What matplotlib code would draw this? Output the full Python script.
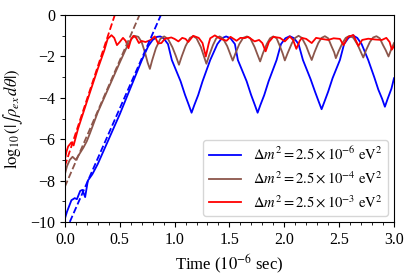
import matplotlib
matplotlib.use("Agg")
import matplotlib.pyplot as plt
from matplotlib.ticker import MultipleLocator

plt.rcParams['font.family'] = ['Liberation Serif', 'DejaVu Serif']
plt.rcParams['mathtext.fontset'] = 'stix'

# values
t_blue = [0.0, 0.02, 0.06, 0.09, 0.11, 0.14, 0.16, 0.185, 0.21, 0.25, 0.3, 0.4, 0.5, 0.6, 0.7,
          0.76, 0.8, 0.84, 0.87, 0.9, 0.94, 0.975, 1.055, 1.095, 1.13, 1.155, 1.18, 1.215, 1.255,
          1.325, 1.39, 1.43, 1.47, 1.51, 1.55, 1.577, 1.657, 1.697, 1.732, 1.757, 1.782, 1.817,
          1.857, 1.93, 1.97, 2.01, 2.05, 2.09, 2.13, 2.17, 2.24, 2.28, 2.315, 2.34, 2.365, 2.40,
          2.44, 2.507, 2.545, 2.585, 2.625, 2.665, 2.705, 2.765, 2.82, 2.857, 2.892, 2.917, 2.942,
          2.977, 3.0]
y_blue = [-9.85, -9.5, -8.95, -8.85, -8.9, -8.5, -8.45, -8.8, -8.0, -7.7, -7.2, -6.0, -4.8, -3.5, -2.2,
          -1.5, -1.2, -1.05, -1.03, -1.12, -1.4, -2.17, -3.2, -3.85, -4.35, -4.72, -4.35, -3.87, -3.2,
          -2.17, -1.4, -1.12, -1.03, -1.12, -1.4, -2.17, -3.2, -3.85, -4.35, -4.72, -4.35, -3.87,
          -3.2, -2.17, -1.4, -1.12, -1.02, -1.12, -1.4, -2.17, -3.1, -3.7, -4.2, -4.55, -4.2, -3.7,
          -3.05, -2.17, -1.4, -1.1, -0.98, -1.1, -1.4, -2.17, -3.0, -3.6, -4.05, -4.43, -4.05,
          -3.55, -3.05]

t_brown = [0.0, 0.02, 0.045, 0.07, 0.1, 0.137, 0.17, 0.2, 0.23, 0.3, 0.4, 0.5, 0.56, 0.6, 0.635,
           0.67, 0.7, 0.73, 0.755, 0.775, 0.795, 0.83, 0.87, 0.905, 0.94, 0.98, 1.01, 1.04, 1.065,
           1.1, 1.14, 1.17, 1.2, 1.24, 1.265, 1.29, 1.315, 1.35, 1.38, 1.41, 1.44, 1.48, 1.505,
           1.53, 1.555, 1.59, 1.625, 1.66, 1.69, 1.73, 1.755, 1.78, 1.805, 1.84, 1.87, 1.9, 1.93,
           1.96, 1.985, 2.005, 2.03, 2.07, 2.1, 2.13, 2.16, 2.2, 2.225, 2.25, 2.275, 2.31, 2.34,
           2.37, 2.4, 2.43, 2.455, 2.47, 2.495, 2.53, 2.56, 2.595, 2.63, 2.67, 2.695, 2.72, 2.745,
           2.78, 2.81, 2.84, 2.87, 2.9, 2.925, 2.95, 2.975, 3.0]
y_brown = [-7.7, -7.3, -7.0, -6.85, -7.0, -6.68, -6.4, -6.1, -5.7, -4.7, -3.5, -2.3, -1.6, -1.2, -1.0,
           -1.05, -1.3, -1.8, -2.3, -2.6, -2.2, -1.6, -1.15, -1.03, -1.15, -1.55, -1.95, -2.4, -2.0,
           -1.5, -1.1, -1.02, -1.12, -1.55, -1.95, -2.35, -1.95, -1.45, -1.12, -1.03, -1.12, -1.5, -1.85,
           -2.2, -1.85, -1.4, -1.1, -1.03, -1.12, -1.55, -1.9, -2.24, -1.85, -1.4, -1.12, -1.03, -1.12,
           -1.5, -1.85, -2.19, -1.85, -1.35, -1.1, -1.0, -1.1, -1.5, -1.85, -2.17, -1.8, -1.35, -1.1,
           -1.02, -1.12, -1.5, -1.8, -2.08, -1.75, -1.35, -1.1, -1.0, -1.1, -1.45, -1.75, -2.05, -1.7,
           -1.3, -1.08, -1.02, -1.12, -1.45, -1.7, -2.0, -1.65, -1.35]

t_red = [0.0, 0.015, 0.03, 0.06, 0.08, 0.1, 0.12, 0.2, 0.3, 0.36, 0.39, 0.425, 0.45, 0.475, 0.5,
         0.53, 0.555, 0.58, 0.605, 0.625, 0.65, 0.675, 0.7, 0.735, 0.775, 0.82, 0.85, 0.88, 0.91,
         0.97, 1.0, 1.035, 1.07, 1.1, 1.125, 1.17, 1.22, 1.255, 1.285, 1.31, 1.325, 1.367, 1.42,
         1.474, 1.51, 1.565, 1.6, 1.64, 1.67, 1.73, 1.77, 1.8, 1.83, 1.86, 1.9, 1.96, 2.005, 2.05,
         2.08, 2.11, 2.14, 2.16, 2.2, 2.25, 2.29, 2.34, 2.40, 2.45, 2.507, 2.54, 2.58, 2.63, 2.675,
         2.71, 2.765, 2.83, 2.89, 2.93, 2.96, 2.98, 3.0]
y_red = [-7.0, -6.6, -6.35, -6.15, -6.3, -5.9, -5.5, -4.2, -2.6, -1.7, -1.15, -0.97, -1.1, -1.45, -1.3,
         -1.1, -1.25, -1.6, -1.15, -1.0, -1.1, -1.35, -1.25, -1.3, -1.22, -1.03, -1.37, -1.35, -1.15,
         -1.08, -1.15, -1.27, -1.1, -1.15, -1.3, -1.0, -1.1, -1.35, -2.0, -1.4, -1.12, -0.98, -1.15,
         -1.24, -1.05, -1.24, -1.1, -1.11, -1.05, -1.27, -1.2, -1.35, -1.75, -1.3, -1.05, -1.1, -1.27, -1.03,
         -1.2, -1.63, -1.25, -1.1, -1.15, -1.35, -1.1, -1.15, -1.2, -1.12, -1.15, -1.45, -1.06, -0.96, -1.49,
         -1.2, -1.14, -1.18, -1.2, -1.1, -1.3, -1.67, -1.5]

# straight dashed guides (end points)
t_blue_fit = [0.045, 0.875]
y_blue_fit = [-10.0, 0.0]
t_brown_fit = [0.0, 0.68]
y_brown_fit = [-8.3, 0.0]
t_red_fit = [0.0, 0.455]
y_red_fit = [-7.3, 0.0]

labels = [r'$\Delta m^2 = 2.5\times 10^{-6}\ \mathrm{eV}^2$',
          r'$\Delta m^2 = 2.5\times 10^{-4}\ \mathrm{eV}^2$',
          r'$\Delta m^2 = 2.5\times 10^{-3}\ \mathrm{eV}^2$']
colors = ['blue', 'tab:brown', 'red']

fig = plt.figure(figsize=(4.13, 2.75), dpi=100)
ax = fig.add_axes([0.157, 0.193, 0.797, 0.752])

ax.plot(t_blue, y_blue, color=colors[0], lw=1.3, label=labels[0])
ax.plot(t_brown, y_brown, color=colors[1], lw=1.3, label=labels[1])
ax.plot(t_red, y_red, color=colors[2], lw=1.3, label=labels[2])
ax.plot(t_blue_fit, y_blue_fit, '--', color=colors[0], lw=1.3)
ax.plot(t_brown_fit, y_brown_fit, '--', color=colors[1], lw=1.3)
ax.plot(t_red_fit, y_red_fit, '--', color=colors[2], lw=1.3)

ax.set_xlim(0, 3.0)
ax.set_ylim(-10, 0)
ax.xaxis.set_major_locator(MultipleLocator(0.5))
ax.xaxis.set_minor_locator(MultipleLocator(0.1))
ax.yaxis.set_major_locator(MultipleLocator(2))
ax.yaxis.set_minor_locator(MultipleLocator(1))
ax.tick_params(labelsize=11.5)

ax.set_xlabel(r'Time ($10^{-6}$ sec)', fontsize=12)
ax.set_ylabel(r'$\log_{10}(|\int\rho_{ex}\,d\theta|)$', fontsize=12)

ax.legend(loc='lower right', fontsize=10.5, framealpha=0.8,
          handlelength=2.2, borderaxespad=0.4)

fig.savefig('out.png', dpi=100)
